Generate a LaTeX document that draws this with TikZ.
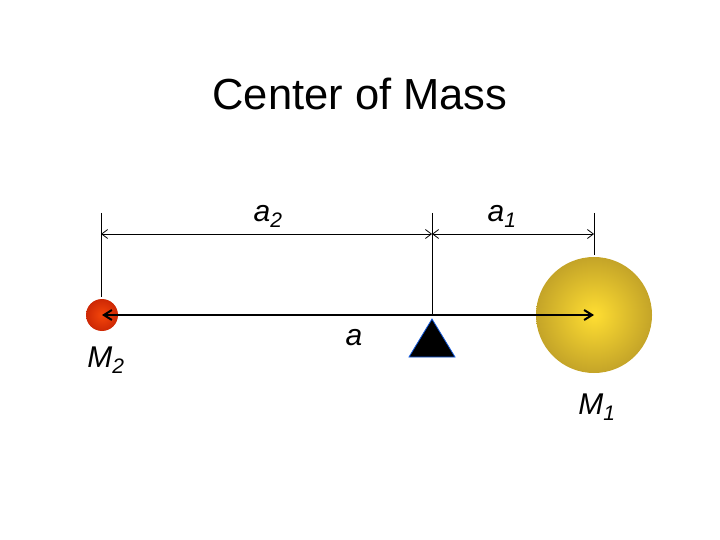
\documentclass[tikz,border=0pt]{standalone}
\usepackage{fontspec}
\setmainfont{Liberation Sans}
\usetikzlibrary{arrows.meta}
\definecolor{redin}{RGB}{245,70,10}
\definecolor{redout}{RGB}{205,40,5}
\definecolor{goldin}{RGB}{255,222,50}
\definecolor{goldout}{RGB}{196,164,40}
\definecolor{tribl}{RGB}{20,90,220}
\tikzset{
  dimline/.style={line width=0.8pt,{Straight Barb[length=6pt,width=9pt]}-{Straight Barb[length=6pt,width=9pt]}},
  extline/.style={line width=0.8pt},
  mainline/.style={line width=2pt,{Straight Barb[length=8pt,width=10pt]}-{Straight Barb[length=8pt,width=10pt]}},
  lbl/.style={font=\fontsize{30}{32}\selectfont\itshape, inner sep=0pt}
}
\begin{document}
\begin{tikzpicture}[x=1pt,y=-1pt]
\useasboundingbox (0,0) rectangle (720,540);
\node[font=\fontsize{43.5}{46}\selectfont] (title) at (360,94) {Center of Mass};
% masses
\coordinate (m2) at (102,315);
\coordinate (m1) at (594,315);
\shade[inner color=redin, outer color=redout] (m2) circle (16);
\shade[inner color=goldin, outer color=goldout] (m1) circle (58);
% pivot
\coordinate (piv) at (432,315);
\filldraw[fill=black, draw=tribl, line width=0.8pt] (432,319) -- (455,357) -- (409,357) -- cycle;
% extension lines
\coordinate (e2t) at (101,213);
\coordinate (e2b) at (101,297);
\coordinate (ept) at (432,213);
\coordinate (e1t) at (594,213);
\coordinate (e1b) at (594,255);
\coordinate (d2) at (101,234);
\coordinate (dp) at (432,234);
\coordinate (d1) at (594,234);
\draw[extline] (e2t) -- (e2b);
\draw[extline] (ept) -- (piv);
\draw[extline] (e1t) -- (e1b);
\draw[dimline] (d2) -- (dp);
\draw[dimline] (dp) -- (d1);
% main arrow
\draw[mainline] (m2) -- (m1);
% labels
\node[lbl] (la2) at (268,216) {a\textsubscript{2}};
\node[lbl] (la1) at (502,216) {a\textsubscript{1}};
\node[lbl] (la) at (354,338) {a};
\node[lbl] (lm2) at (106,360) {M\textsubscript{2}};
\node[lbl] (lm1) at (597,407) {M\textsubscript{1}};
\end{tikzpicture}
\end{document}
